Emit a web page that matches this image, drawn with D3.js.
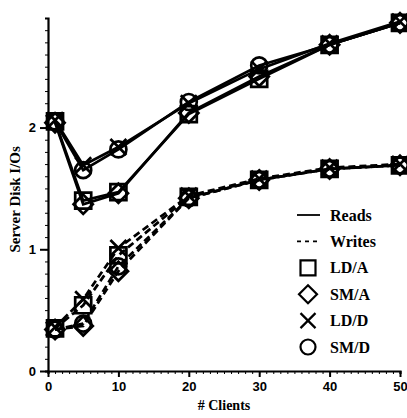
<!DOCTYPE html>
<html>
<head>
<meta charset="utf-8">
<script src="https://cdn.jsdelivr.net/npm/d3@7"></script>
<style>
  body { margin: 0; background: #fff; }
  svg { display: block; font-family: "Liberation Serif", "DejaVu Serif", serif; font-weight: bold; }
</style>
</head>
<body>
<div id="chart"></div>
<script>
// # clients on the x axis
const clients = [1, 5, 10, 20, 30, 40, 50];

// reads (solid lines)
const readsLDA = [2.05, 1.40, 1.47, 2.11, 2.40, 2.68, 2.86];
const readsSMA = [2.04, 1.37, 1.46, 2.12, 2.42, 2.68, 2.86];
const readsLDD = [2.06, 1.69, 1.84, 2.20, 2.48, 2.69, 2.87];
const readsSMD = [2.05, 1.65, 1.82, 2.21, 2.51, 2.68, 2.86];

// writes (dashed lines)
const writesLDA = [0.35, 0.54, 0.95, 1.43, 1.57, 1.66, 1.69];
const writesSMA = [0.34, 0.37, 0.82, 1.42, 1.57, 1.66, 1.69];
const writesLDD = [0.36, 0.59, 1.01, 1.44, 1.58, 1.67, 1.70];
const writesSMD = [0.34, 0.39, 0.86, 1.42, 1.57, 1.66, 1.69];

const xTickLabels = [0, 10, 20, 30, 40, 50];
const yTickLabels = [0, 1, 2];
const schemes = ['LD/A', 'SM/A', 'LD/D', 'SM/D'];

const width = 407, height = 418;
const margin = {top: 18, right: 7, bottom: 47, left: 48};

const svg = d3.select('#chart').append('svg')
  .attr('width', width)
  .attr('height', height);

const x = d3.scaleLinear().domain([0, 50]).range([margin.left, width - margin.right]);
const y = d3.scaleLinear().domain([0, 2.9]).range([height - margin.bottom, margin.top]);

// symbols
function circlePath(s) {
  const p = d3.path();
  p.moveTo(s / 2, 0);
  p.arc(0, 0, s / 2, 0, 2 * Math.PI);
  return p.toString();
}
const symbolPath = {
  'LD/A': s => `M${-s / 2},${-s / 2}h${s}v${s}h${-s}Z`,
  'SM/A': s => `M0,${-s * 0.6}L${s * 0.6},0L0,${s * 0.6}L${-s * 0.6},0Z`,
  'LD/D': s => `M${-s / 2},${-s / 2}L${s / 2},${s / 2}M${s / 2},${-s / 2}L${-s / 2},${s / 2}`,
  'SM/D': s => circlePath(s)
};

const series = [
  {name: 'LD/A', values: readsLDA, dash: null},
  {name: 'SM/A', values: readsSMA, dash: null},
  {name: 'LD/D', values: readsLDD, dash: null},
  {name: 'SM/D', values: readsSMD, dash: null},
  {name: 'LD/A', values: writesLDA, dash: '7,4'},
  {name: 'SM/A', values: writesSMA, dash: '7,4'},
  {name: 'LD/D', values: writesLDD, dash: '7,4'},
  {name: 'SM/D', values: writesSMD, dash: '7,4'}
];

const line = d3.line()
  .x((d, i) => x(clients[i]))
  .y(d => y(d));

// axes: minor ticks
svg.append('g')
  .attr('transform', `translate(0,${y(0)})`)
  .call(d3.axisBottom(x).tickValues(d3.range(0, 51, 1)).tickSize(3).tickFormat(''))
  .call(g => g.select('.domain').attr('stroke-width', 2.2));

svg.append('g')
  .attr('transform', `translate(${x(0)},0)`)
  .call(d3.axisLeft(y).tickValues(d3.range(0, 2.91, 0.1)).tickSize(3).tickFormat(''))
  .call(g => g.select('.domain').attr('stroke-width', 2.2));

// axes: major ticks with labels
svg.append('g')
  .attr('transform', `translate(0,${y(0)})`)
  .call(d3.axisBottom(x).tickValues(xTickLabels).tickSize(6).tickPadding(5).tickFormat(d3.format('d')))
  .call(g => g.select('.domain').remove())
  .call(g => g.selectAll('line').attr('stroke-width', 2))
  .call(g => g.selectAll('text').attr('font-size', 13).attr('font-family', null));

svg.append('g')
  .attr('transform', `translate(${x(0)},0)`)
  .call(d3.axisLeft(y).tickValues(yTickLabels).tickSize(8).tickPadding(4).tickFormat(d3.format('d')))
  .call(g => g.select('.domain').remove())
  .call(g => g.selectAll('line').attr('stroke-width', 2))
  .call(g => g.selectAll('text').attr('font-size', 13).attr('font-family', null));

// axis titles
svg.append('text')
  .attr('x', (x(0) + x(50)) / 2)
  .attr('y', 410)
  .attr('text-anchor', 'middle')
  .attr('font-size', 14)
  .text('# Clients');

svg.append('text')
  .attr('transform', `translate(20,${y(1.41)}) rotate(-90)`)
  .attr('text-anchor', 'middle')
  .attr('font-size', 15)
  .text('Server Disk I/Os');

// lines
svg.selectAll('.series')
  .data(series)
  .enter().append('path')
  .attr('class', 'series')
  .attr('d', d => line(d.values))
  .attr('fill', 'none')
  .attr('stroke', '#000')
  .attr('stroke-width', 2.7)
  .attr('stroke-dasharray', d => d.dash);

// markers
series.forEach(s => {
  svg.selectAll(null)
    .data(s.values)
    .enter().append('path')
    .attr('transform', (d, i) => `translate(${x(clients[i])},${y(d)})`)
    .attr('d', symbolPath[s.name](16))
    .attr('fill', 'none')
    .attr('stroke', '#000')
    .attr('stroke-width', 2.7);
});

// legend
const legend = svg.append('g').attr('transform', 'translate(297,0)');
const rows = [
  {label: 'Reads', dash: null},
  {label: 'Writes', dash: '4,4'}
].concat(schemes.map(s => ({label: s, symbol: s})));
const rowY = d3.scalePoint().domain(rows.map(r => r.label)).range([215, 347]);

rows.forEach(r => {
  if (r.symbol) {
    legend.append('path')
      .attr('transform', `translate(11,${rowY(r.label)})`)
      .attr('d', symbolPath[r.symbol](15))
      .attr('fill', 'none')
      .attr('stroke', '#000')
      .attr('stroke-width', 2.2);
  } else {
    legend.append('line')
      .attr('x1', 0).attr('x2', 23)
      .attr('y1', rowY(r.label)).attr('y2', rowY(r.label))
      .attr('stroke', '#000')
      .attr('stroke-width', 1.8)
      .attr('stroke-dasharray', r.dash);
  }
  legend.append('text')
    .attr('x', 33)
    .attr('y', rowY(r.label))
    .attr('dy', '0.35em')
    .attr('font-size', 16)
    .text(r.label);
});
</script>
</body>
</html>
